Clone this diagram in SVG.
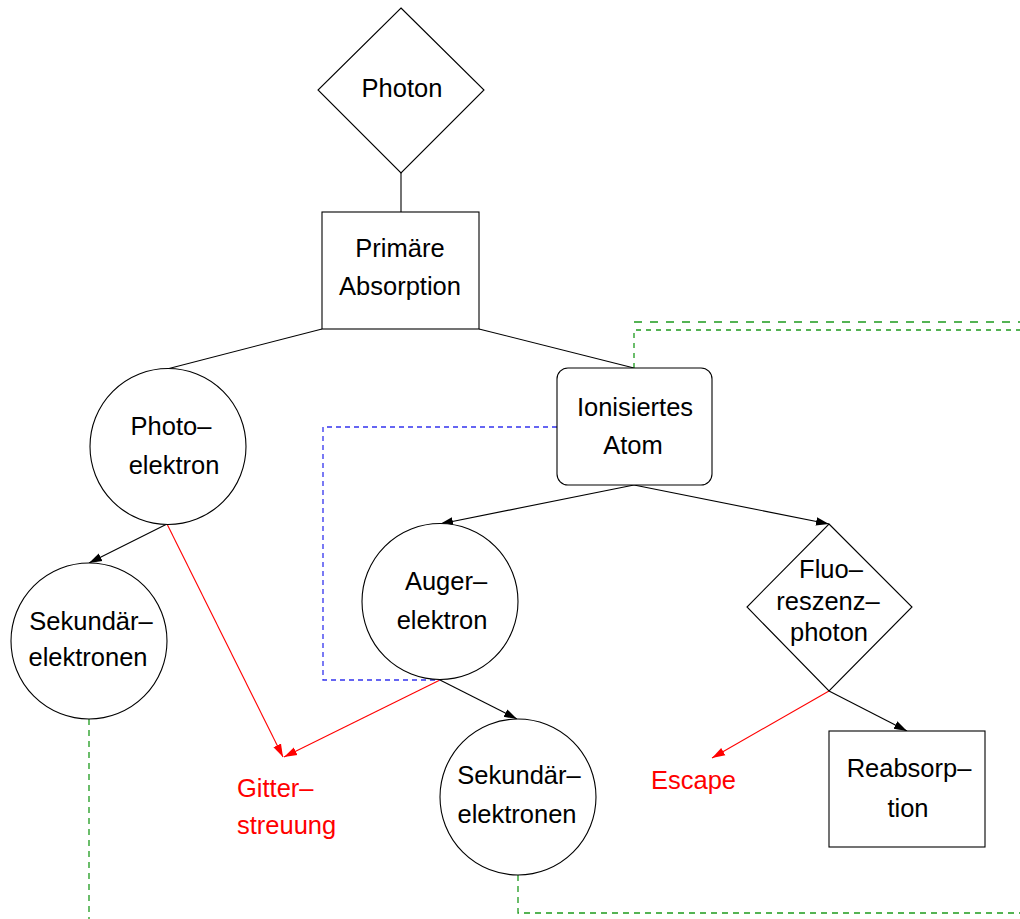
<svg xmlns="http://www.w3.org/2000/svg" width="1020" height="919" viewBox="0 0 1020 919">
<style>
.n{fill:#fff;stroke:#000;stroke-width:1.1}
.t{font-family:"Liberation Sans",Arial,sans-serif;font-size:25.5px;fill:#000;text-anchor:middle}
.r{fill:#f00;text-anchor:start}
.k{fill:none;stroke:#000;stroke-width:1.1}
.kr{fill:none;stroke:#f00;stroke-width:1.1}
.b{fill:none;stroke:#3333ee;stroke-width:1.3;stroke-dasharray:5 4}
.g{fill:none;stroke:#1c9a1c;stroke-width:1.3;stroke-dasharray:6 5}
.g2{fill:none;stroke:#1c9a1c;stroke-width:1.3;stroke-dasharray:8 8}
</style>
<defs>
<marker id="ab" markerWidth="14" markerHeight="10" refX="13" refY="5" orient="auto" markerUnits="userSpaceOnUse">
<path d="M0,0.8 L13,5 L0,9.2 Z" fill="#000"/>
</marker>
<marker id="ar" markerWidth="14" markerHeight="10" refX="13" refY="5" orient="auto" markerUnits="userSpaceOnUse">
<path d="M0,0.8 L13,5 L0,9.2 Z" fill="#f00"/>
</marker>
</defs>
<g id="connectors">
<line class="k" x1="401" y1="173" x2="401" y2="212"/>
<line class="k" x1="322" y1="329" x2="167" y2="369"/>
<line class="k" x1="479" y1="329" x2="634" y2="368"/>
<line class="k" x1="167" y1="524" x2="89" y2="563" marker-end="url(#ab)"/>
<line class="kr" x1="167" y1="524" x2="283" y2="757" marker-end="url(#ar)"/>
<line class="kr" x1="440" y1="680" x2="284" y2="757" marker-end="url(#ar)"/>
<line class="k" x1="634" y1="485" x2="440" y2="524" marker-end="url(#ab)"/>
<line class="k" x1="634" y1="485" x2="829" y2="524" marker-end="url(#ab)"/>
<line class="k" x1="440" y1="680" x2="517" y2="719" marker-end="url(#ab)"/>
<line class="kr" x1="829" y1="691" x2="712" y2="758" marker-end="url(#ar)"/>
<line class="k" x1="829" y1="691" x2="907" y2="731" marker-end="url(#ab)"/>
<path class="b" d="M557,427 H323 V680 H440"/>
<path class="g" d="M89,719 V919"/>
<path class="g" d="M518,875 V913 H1020"/>
<path class="g2" d="M634,322 H1020"/>
<path class="g" d="M634,368 V330 H1020" style="stroke-dasharray:5 5"/>
</g>
<g id="photon">
<polygon class="n" points="401,8 484,90 401,173 318,90"/>
<text class="t" x="402" y="97">Photon</text>
</g>
<g id="primaere-absorption">
<rect class="n" x="322" y="212" width="157" height="117"/>
<text class="t" x="400" y="257">Primäre</text>
<text class="t" x="400" y="295">Absorption</text>
</g>
<g id="photoelektron">
<circle class="n" cx="168" cy="446.5" r="78"/>
<text class="t" x="171" y="435">Photo–</text>
<text class="t" x="174" y="474">elektron</text>
</g>
<g id="ionisiertes-atom">
<rect class="n" x="557" y="368" width="155" height="117" rx="11"/>
<text class="t" x="635" y="416">Ionisiertes</text>
<text class="t" x="633" y="454">Atom</text>
</g>
<g id="sekundaer-links">
<circle class="n" cx="89" cy="641" r="78"/>
<text class="t" x="91" y="630">Sekundär–</text>
<text class="t" x="88" y="666">elektronen</text>
</g>
<g id="augerelektron">
<ellipse class="n" cx="440" cy="601.5" rx="78" ry="78"/>
<text class="t" x="446" y="590">Auger–</text>
<text class="t" x="442" y="629">elektron</text>
</g>
<g id="fluoreszenzphoton">
<polygon class="n" points="829,524 912,607 829,691 747,607"/>
<text class="t" x="831" y="578">Fluo–</text>
<text class="t" x="828" y="610">reszenz–</text>
<text class="t" x="829" y="641">photon</text>
</g>
<g id="gitterstreuung">
<text class="t r" x="237" y="797">Gitter–</text>
<text class="t r" x="237" y="834">streuung</text>
</g>
<g id="sekundaer-mitte">
<circle class="n" cx="518" cy="797" r="78"/>
<text class="t" x="519" y="784">Sekundär–</text>
<text class="t" x="517" y="823">elektronen</text>
</g>
<g id="escape">
<text class="t r" x="651" y="789">Escape</text>
</g>
<g id="reabsorption">
<rect class="n" x="829" y="731" width="156" height="116"/>
<text class="t" x="909" y="777">Reabsorp–</text>
<text class="t" x="908" y="817">tion</text>
</g>
</svg>
